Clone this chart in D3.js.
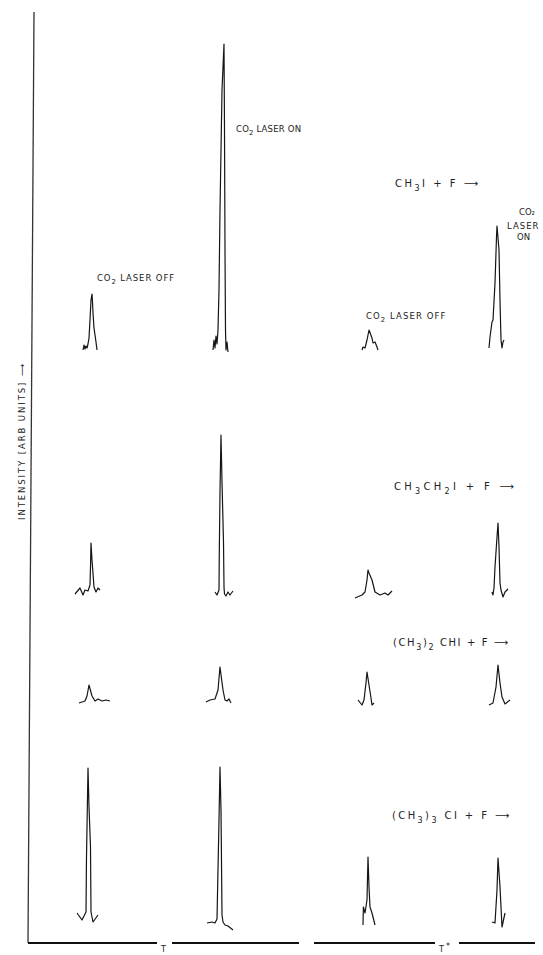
<!DOCTYPE html>
<html>
<head>
<meta charset="utf-8">
<script src="https://cdn.jsdelivr.net/npm/d3@7"></script>
<style>
  body { margin: 0; background: #fff; }
  svg { display: block; }
  text { font-family: "DejaVu Sans", sans-serif; fill: #222; }
</style>
</head>
<body>
<svg id="chart"></svg>
<script>
// rows = reactions, columns = detector gate (T / T*) with CO2 laser off / on
var reactions = ["CH3I + F", "CH3CH2I + F", "(CH3)2CHI + F", "(CH3)3CI + F"];
var columns = ["T laser off", "T laser on", "T* laser off", "T* laser on"];

// traces: [channel, intensity (arb units)]
var ch3i_T_off   = [[-7,0],[-6,5],[-5,1],[-4,4],[-3,2],[-2,6],[-1,12],[0,30],[1,50],[2,56],[2.5,48],[3,37],[4,22],[6,8],[7,0]];
var ch3i_T_on    = [[-8,0],[-7,10],[-6,2],[-5,14],[-4,6],[-3,20],[-2,60],[-1,140],[1,260],[3,306],[3.5,220],[4,100],[4.5,20],[5,0],[6,8],[7,-2]];
var ch3i_Ts_off  = [[-6,0],[-5,3],[-3,2],[-1,10],[1,20],[4,12],[5,7],[7,8],[9,3],[10,0]];
var ch3i_Ts_on   = [[-9,2],[-8,13],[-6,28],[-5,30],[-3,67],[-1.5,113],[-1,124],[1,100],[2,50],[3,10],[4,2],[5,8],[6,10]];

var ch3ch2i_T_off  = [[-15,-2],[-10,4],[-7,-3],[-5,2],[-2,1],[0,7],[0.5,25],[1,49],[2,32],[4,5],[6,0],[8,4],[10,2]];
var ch3ch2i_T_on   = [[-6,0],[-4,-3],[-2,2],[-1.7,40],[-1,100],[0,157],[1,110],[2.5,50],[3,5],[3.5,-2],[5,-4],[7,0],[9,-3],[12,1]];
var ch3ch2i_Ts_off = [[-13,-6],[-6,-3],[-3,0],[-1,12],[0,22],[1,19],[4,12],[7,0],[12,-3],[17,-1],[20,-3],[24,1]];
var ch3ch2i_Ts_on  = [[-6,0],[-5,-3],[-4,4],[-3,25],[-1,55],[0,69],[1,45],[2,9],[3,2],[5,-5],[7,0],[10,3]];

var ch32chi_T_off  = [[-11,-1],[-5,1],[-3,6],[-1,17],[2,6],[5,1],[8,3],[12,1],[16,2],[20,1]];
var ch32chi_T_on   = [[-15,0],[-11,2],[-6,3],[-3,12],[-1,35],[2,12],[4,2],[6,1],[8,3],[10,-1]];
var ch32chi_Ts_off = [[-10,2],[-6,-3],[-4,2],[-2,19],[-1,30],[1,17],[3,4],[4,-3],[6,-1]];
var ch32chi_Ts_on  = [[-9,-3],[-5,-1],[-2,15],[0,37],[2,19],[4,5],[7,-2],[12,2]];

var ch33ci_T_off  = [[-13,7],[-8,0],[-4,8],[-3.5,63],[-2,152],[-1,113],[0.5,73],[1,8],[3,-2],[8,5]];
var ch33ci_T_on   = [[-14,-3],[-9,-2],[-6,-3],[-4,1],[-2,100],[-1,153],[0,110],[1,5],[2,-2],[4,-5],[7,-6],[12,-10]];
var ch33ci_Ts_off = [[-5,-5],[-4.6,13],[-3,7],[-1,20],[0,63],[1,33],[2,13],[4,7],[7,-5]];
var ch33ci_Ts_on  = [[-6,-2],[-3,-3],[-1,30],[0,62],[2,33],[3,13],[4,-7],[7,7]];

var traces = [
  [ch3i_T_off, ch3i_T_on, ch3i_Ts_off, ch3i_Ts_on],
  [ch3ch2i_T_off, ch3ch2i_T_on, ch3ch2i_Ts_off, ch3ch2i_Ts_on],
  [ch32chi_T_off, ch32chi_T_on, ch32chi_Ts_off, ch32chi_Ts_on],
  [ch33ci_T_off, ch33ci_T_on, ch33ci_Ts_off, ch33ci_Ts_on]
];

// time window of each column, in channels around the peak
var timeWindows = [[-62, 67], [-49, 78], [-54, 67], [-39, 37]];

// label texts, [text, subscript?]
var rowLabels = [
  [["CH", 0], ["3", 1], ["I + F  \u27F6", 0]],
  [["CH", 0], ["3", 1], ["CH", 0], ["2", 1], ["I  + F  \u27F6", 0]],
  [["(CH", 0], ["3", 1], [")", 0], ["2", 1], [" CHI + F \u27F6", 0]],
  [["(CH", 0], ["3", 1], [")", 0], ["3", 1], [" CI  + F \u27F6", 0]]
];
var laserOff = [["CO", 0], ["2", 1], [" LASER OFF", 0]];
var laserOn = [["CO", 0], ["2", 1], [" LASER ON", 0]];

// layout
var width = 543, height = 955;
var rowBase = [350, 592, 702, 920];
var colCenter = [90, 221, 368, 498];
var axisY = 943;

var svg = d3.select("#chart")
  .attr("width", width)
  .attr("height", height);

var yScales = rowBase.map(function (b) {
  return d3.scaleLinear().domain([0, 310]).range([b, b - 310]);
});
var xScales = colCenter.map(function (c, i) {
  var w = timeWindows[i];
  return d3.scaleLinear().domain(w).range([c + w[0], c + w[1]]);
});

// intensity axis
svg.append("line")
  .attr("x1", 34).attr("y1", 12)
  .attr("x2", 28).attr("y2", axisY)
  .attr("stroke", "#333").attr("stroke-width", 1.3);

// time axes, one per column
svg.selectAll(".taxis")
  .data(xScales)
  .enter()
  .append("line")
  .attr("class", "taxis")
  .attr("x1", function (s) { return s.range()[0]; })
  .attr("x2", function (s) { return s.range()[1]; })
  .attr("y1", axisY).attr("y2", axisY)
  .attr("stroke", "#111").attr("stroke-width", 1.8);

// peaks
traces.forEach(function (row, r) {
  row.forEach(function (pts, c) {
    var line = d3.line()
      .x(function (d) { return xScales[c](d[0]); })
      .y(function (d) { return yScales[r](d[1]); });
    svg.append("path")
      .attr("d", line(pts))
      .attr("fill", "none")
      .attr("stroke", "#151515")
      .attr("stroke-width", 1.2)
      .attr("stroke-linejoin", "round");
  });
});

function label(parts, x, y, size, spacing) {
  var t = svg.append("text")
    .attr("x", x).attr("y", y)
    .attr("letter-spacing", spacing)
    .style("font-size", size + "px");
  var off = 0;
  parts.forEach(function (p) {
    var want = p[1] ? size * 0.4 : 0;
    t.append("tspan")
      .attr("dy", want - off)
      .style("font-size", (p[1] ? size * 0.8 : size) + "px")
      .text(p[0]);
    off = want;
  });
  return t;
}

label(laserOff, 97, 281, 8.5, 0.9);
label(laserOn, 236, 132, 8.5, 0.2);
label(laserOff, 366, 319, 8.5, 1.1);
svg.append("text").attr("x", 527).attr("y", 215).attr("text-anchor", "middle").style("font-size", "8.5px").text("CO\u2082");
svg.append("text").attr("x", 507).attr("y", 229).style("font-size", "8.5px").attr("letter-spacing", 1).text("LASER");
svg.append("text").attr("x", 517).attr("y", 240).style("font-size", "8.5px").text("ON");

var labelPos = [[395, 187, 2.5], [394, 490, 3.3], [393, 646, 1.6], [392, 819, 2.4]];
rowLabels.forEach(function (parts, i) {
  label(parts, labelPos[i][0], labelPos[i][1], 10, labelPos[i][2]);
});

// time gate marks
svg.append("text").attr("x", 161).attr("y", 952).style("font-size", "8px").text("T");
svg.append("text").attr("x", 439).attr("y", 952).style("font-size", "8px").text("T");
svg.append("text").attr("x", 446).attr("y", 949).style("font-size", "8px").text("*");

// intensity label
svg.append("text")
  .attr("transform", "translate(25,520) rotate(-90)")
  .style("font-size", "8.5px")
  .attr("letter-spacing", 1.9)
  .text("INTENSITY [ARB UNITS] \u27F6");
</script>
</body>
</html>
